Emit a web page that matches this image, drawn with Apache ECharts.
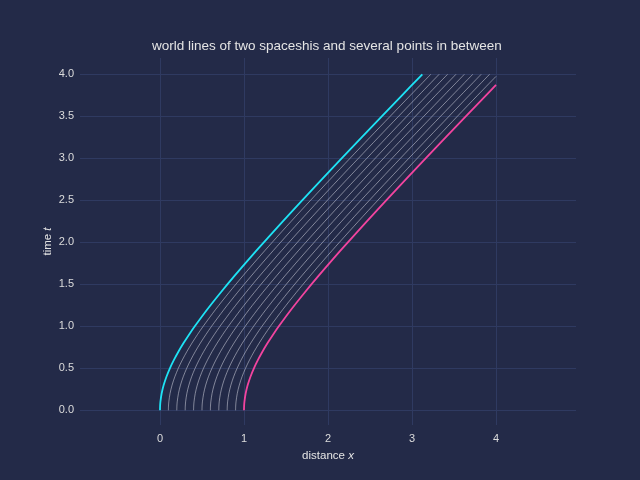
<!DOCTYPE html>
<html><head><meta charset="utf-8">
<script src="https://cdn.jsdelivr.net/npm/echarts@6/dist/echarts.min.js"></script>
<style>html,body{margin:0;padding:0;background:#232a48;}#c{width:640px;height:480px;}</style>
</head><body><div id="c"></div>
<script>
// time samples along the world line (t)
const timeSamples = [0, 0.05, 0.1, 0.2, 0.3, 0.4, 0.5, 0.6, 0.7, 0.8, 0.9, 1.0, 1.2, 1.4, 1.6, 1.8, 2.0, 2.25, 2.5, 2.75, 3.0, 3.25, 3.5, 3.75, 4.0];
// displacement from start position
const displacement = [0, 0.0013, 0.005, 0.0198, 0.044, 0.077, 0.118, 0.1662, 0.2207, 0.2806, 0.3454, 0.4142, 0.562, 0.7205, 0.8868, 1.0591, 1.2361, 1.4622, 1.6926, 1.9262, 2.1623, 2.4004, 2.6401, 2.881, 3.1231];
// start positions of the world lines
const startPositions = [0, 0.1, 0.2, 0.3, 0.4, 0.5, 0.6, 0.7, 0.8, 0.9, 1.0];
// time at which a line leaves the plotted range x = 4 (null = stays inside)
const exitTimes = [null, null, null, null, null, null, null, null, null, 3.975, 3.873];
const xMaxData = 4;
const xTicks = [0, 1, 2, 3, 4];
const yTicks = [0, 0.5, 1, 1.5, 2, 2.5, 3, 3.5, 4];

const series = startPositions.map((x0, k) => {
  const pts = [];
  timeSamples.forEach((t, i) => {
    const x = x0 + displacement[i];
    if (x <= xMaxData + 1e-9) pts.push([x, t]);
  });
  if (exitTimes[k] !== null) pts.push([xMaxData, exitTimes[k]]);
  const first = k === 0, last = k === startPositions.length - 1;
  return {
    type: 'line', data: pts, symbol: 'none', smooth: 0.3, z: (first || last) ? 3 : 2,
    lineStyle: {
      width: (first || last) ? 1.8 : 0.8,
      color: first ? '#1ee3f5' : (last ? '#f2449f' : 'rgba(235,235,245,0.6)')
    }
  };
});

const chart = echarts.init(document.getElementById('c'));
chart.setOption({
  backgroundColor: '#232a48',
  animation: false,
  textStyle: { fontFamily: 'Liberation Sans' },
  title: {
    text: 'world lines of two spaceshis and several points in between',
    left: 147, top: 34,
    textStyle: { color: '#e4e4e4', fontSize: 13.5, fontWeight: 'normal', fontFamily: 'Liberation Sans' }
  },
  grid: { left: 80, right: 64, top: 58, bottom: 55 },
  xAxis: {
    type: 'value', min: -0.952, max: 4.952,
    name: 'distance {i|x}', nameLocation: 'middle', nameGap: 25, nameMoveOverlap: false,
    nameTextStyle: { color: '#e4e4e4', fontSize: 11.5, rich: { i: { fontStyle: 'italic', color: '#e4e4e4', fontSize: 11.5 } } },
    axisLine: { show: false },
    axisTick: { show: false, customValues: xTicks },
    axisLabel: { customValues: xTicks, color: '#dcdcdc', fontSize: 11, margin: 8 },
    splitLine: { show: true, lineStyle: { color: '#2f3a61', width: 1 } }
  },
  yAxis: {
    type: 'value', min: -0.175, max: 4.194,
    name: 'time {i|t}', nameLocation: 'middle', nameGap: 26, nameMoveOverlap: false,
    nameTextStyle: { color: '#e4e4e4', fontSize: 11.5, rich: { i: { fontStyle: 'italic', color: '#e4e4e4', fontSize: 11.5 } } },
    axisLine: { show: false },
    axisTick: { show: false, customValues: yTicks },
    axisLabel: { customValues: yTicks, color: '#dcdcdc', fontSize: 11, margin: 6, formatter: v => v.toFixed(1) },
    splitLine: { show: true, lineStyle: { color: '#2f3a61', width: 1 } }
  },
  series: series
});
</script></body></html>
